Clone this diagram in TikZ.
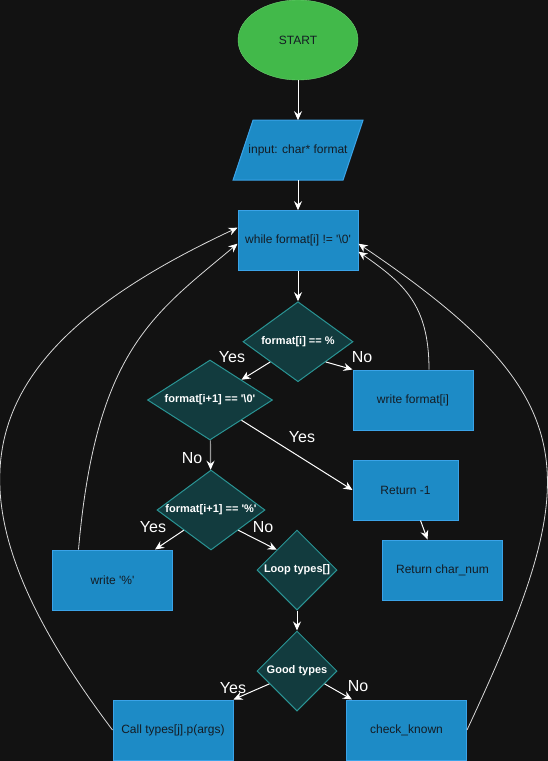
\documentclass[tikz,border=0pt]{standalone}
\usepackage{fontspec}
\setmainfont{Liberation Sans}
\usetikzlibrary{positioning, shapes.geometric, arrows.meta}
\definecolor{bgc}{HTML}{121212}
\definecolor{boxc}{HTML}{1D8BC6}
\definecolor{boxe}{HTML}{3AA3E8}
\definecolor{diac}{HTML}{123B3E}
\definecolor{diae}{HTML}{2A9494}
\definecolor{startc}{HTML}{42B94A}
\definecolor{starte}{HTML}{6CD070}
\definecolor{txtc}{HTML}{141C24}
\newcommand{\dtext}[1]{\makebox[0pt]{#1}}
\newcommand{\sq}{\textquotesingle}

\begin{document}
\begin{tikzpicture}[
  x=1pt, y=1pt,
  proc/.style={rectangle, draw=boxe, fill=boxc, text=txtc,
    font=\fontsize{12}{14}\selectfont,
    minimum width=120pt, minimum height=60pt, line width=1pt},
  dec/.style={diamond, draw=diae, fill=diac, text=white,
    font=\fontsize{11}{13}\selectfont\bfseries,
    inner sep=0pt, line width=1pt},
  lbl/.style={text=white, font=\fontsize{16}{18}\selectfont, inner sep=0pt},
  arr/.style={draw=white, line width=1pt,
    -{Stealth[length=9pt,width=8pt,inset=3pt]}},
  arrg/.style={draw=gray!80, line width=1.2pt,
    -{Stealth[length=9pt,width=8pt,inset=3pt,color=white]}},
  back/.style={draw=white!85!black, line width=0.8pt,
    -{Stealth[length=9pt,width=8pt,inset=3pt,color=white]}}
]
  \fill[bgc] (0,0) rectangle (548,-761);
  \useasboundingbox (0,0) rectangle (548,-761);

  \node[
  ellipse,
  draw=starte,
  fill=startc,
  text=txtc,
  font=\fontsize{12}{14}\selectfont,
  minimum width=120pt,
  minimum height=80pt] (start) at (298,-40) {START};

  \node[
  below=40pt of start,
  rectangle,
  outer sep=0pt,
  minimum width=130pt,
  minimum height=60pt] (inp) {};
  \filldraw[draw=boxe, fill=boxc, line width=1pt]
    ([xshift=20pt]inp.north west) -- (inp.north east)
    -- ([xshift=-20pt]inp.south east) -- (inp.south west) -- cycle;
  \node[text=txtc, font=\fontsize{12}{14}\selectfont] (inpt) at (inp) {input: char* format};

  \node[proc, below=30pt of inp] (wh) {while format[i] != \sq\textbackslash 0\sq};

  \node[dec, minimum width=110pt, minimum height=80pt, below=30pt of wh] (d1)
    {\dtext{format[i] == \%}};
  \node[dec, minimum width=125pt, minimum height=80pt] (d2) at (210,-400)
    {\dtext{format[i+1] == \sq\textbackslash 0\sq}};
  \node[proc] (wfi) at (413,-400) {write format[i]};
  \node[proc, minimum width=105pt] (r1) at (405.5,-490) {Return -1};
  \node[proc] (rc) at (442.5,-570) {Return char\_num};
  \node[dec, minimum width=108pt, minimum height=80pt] (d3) at (211,-510)
    {\dtext{format[i+1] == \sq\%\sq}};
  \node[proc] (wp) at (112.5,-580) {write \sq\%\sq};
  \node[dec, minimum width=80pt, minimum height=80pt] (lt) at (297,-570)
    {\dtext{Loop types[]}};
  \node[dec, minimum width=80pt, minimum height=80pt, below=20pt of lt] (gt)
    {\dtext{Good types}};
  \node[proc] (call) at (173,-730) {Call types[j].p(args)};
  \node[proc] (ck) at (406.5,-730) {check\_known};

  \draw[arr] (start) -- (inp);
  \draw[arr] (inp) -- (wh);
  \draw[arr] (wh) -- (d1);
  \draw[arr] (d1.south west) -- (d2.north east);
  \draw[arr] (d1.south east) -- (wfi.north west);
  \draw[arr] (d2.south east) -- (r1.west);
  \draw[arrg] (d2) -- (d3);
  \draw[arr] ([xshift=15pt]r1.south) -- ([xshift=-15pt]rc.north);
  \draw[arr] (d3.south west) -- ([xshift=-18pt]wp.north east);
  \draw[arr] (d3.south east) -- (lt.north west);
  \draw[arr] (lt) -- (gt);
  \draw[arr] (gt.205) -- (call.north east);
  \draw[arr] (gt.-25) -- ([xshift=6pt]ck.north west);

  \draw[back] ([xshift=-34pt]wp.north) .. controls +(85:200) and +(220:110) .. ([yshift=-3pt]wh.west);
  \draw[back] (call.west) .. controls +(127:300) and +(205:300) .. ([yshift=13pt]wh.west);
  \draw[back] ([xshift=16pt]wfi.north) .. controls +(90:65) and +(-35:55) .. ([yshift=-11pt]wh.east);
  \draw[back] (ck.east) .. controls +(65:280) and +(-34:280) .. ([yshift=-3pt]wh.east);

  \node[lbl] (y1) at (232,-357) {Yes};
  \node[lbl] (n1) at (362,-357) {No};
  \node[lbl] (y2) at (302,-437) {Yes};
  \node[lbl] (n2) at (192,-458) {No};
  \node[lbl] (y3) at (153,-527) {Yes};
  \node[lbl] (n3) at (263,-527) {No};
  \node[lbl] (y4) at (233,-688) {Yes};
  \node[lbl] (n4) at (358,-686) {No};
\end{tikzpicture}
\end{document}
